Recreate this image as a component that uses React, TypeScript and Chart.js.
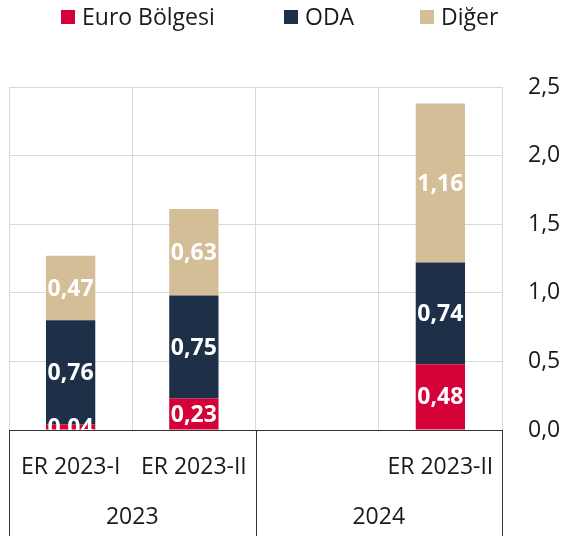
import React, { useEffect, useRef } from "react";
import { Chart, registerables } from "chart.js";

Chart.register(...registerables);

const categories = ["ER 2023-I", "ER 2023-II", "", "ER 2023-II"];
const groups = [
  { label: "2023", from: 0, to: 1 },
  { label: "2024", from: 2, to: 3 },
];
const euroBolgesi = [0.04, 0.23, null, 0.48];
const oda = [0.76, 0.75, null, 0.74];
const diger = [0.47, 0.63, null, 1.16];
const seriesNames = ["Euro Bölgesi", "ODA", "Diğer"];
const seriesColors = ["#D50037", "#1D3047", "#D4BE98"];
const yMin = 0;
const yMax = 2.5;
const yStep = 0.5;

const FONT = "'Open Sans', sans-serif";
const FS = 23;

const fmt = (v: number, d: number) => v.toFixed(d).replace(".", ",");

const legendPlugin = {
  id: "customLegend",
  afterDraw(chart: any) {
    const ctx = chart.ctx;
    ctx.save();
    ctx.font = `${FS}px ${FONT}`;
    ctx.textBaseline = "middle";
    ctx.textAlign = "left";
    const starts = [61, 284, 420];
    chart.data.datasets.forEach((ds: any, i: number) => {
      const x = starts[i];
      ctx.fillStyle = ds.backgroundColor;
      ctx.fillRect(x, 10, 14, 14);
      ctx.fillStyle = "#1a1a1a";
      ctx.fillText(ds.label, x + 21, 18);
    });
    ctx.restore();
  },
};

const dataLabelPlugin = {
  id: "segLabels",
  afterDatasetsDraw(chart: any) {
    const ctx = chart.ctx;
    const area = chart.chartArea;
    ctx.save();
    ctx.beginPath();
    ctx.rect(area.left, area.top, area.right - area.left, area.bottom - area.top);
    ctx.clip();
    ctx.font = `bold ${FS}px ${FONT}`;
    ctx.fillStyle = "#ffffff";
    ctx.textAlign = "center";
    ctx.textBaseline = "middle";
    chart.data.datasets.forEach((ds: any, di: number) => {
      const meta = chart.getDatasetMeta(di);
      meta.data.forEach((el: any, i: number) => {
        const v = ds.data[i];
        if (v === null || v === undefined) return;
        const p = el.getProps(["x", "y", "base"], true);
        ctx.fillText(fmt(v, 2), p.x, (p.y + p.base) / 2 + 1);
      });
    });
    ctx.restore();
  },
};

const axisBoxPlugin = {
  id: "axisBox",
  afterDraw(chart: any) {
    const ctx = chart.ctx;
    const x = chart.scales.x;
    const area = chart.chartArea;
    const bottom = chart.height;
    const cw = x.getPixelForValue(1) - x.getPixelForValue(0);
    ctx.save();
    ctx.strokeStyle = "#333333";
    ctx.lineWidth = 1;
    ctx.beginPath();
    ctx.moveTo(area.left, Math.round(area.bottom) + 0.5);
    ctx.lineTo(area.right, Math.round(area.bottom) + 0.5);
    const edges: number[] = [];
    groups.forEach((g) => {
      edges.push(x.getPixelForValue(g.from) - cw / 2);
    });
    edges.push(x.getPixelForValue(groups[groups.length - 1].to) + cw / 2);
    edges.forEach((e) => {
      const px = Math.round(e) + 0.5;
      ctx.moveTo(px, area.bottom);
      ctx.lineTo(px, bottom);
    });
    ctx.stroke();

    ctx.fillStyle = "#1a1a1a";
    ctx.font = `${FS}px ${FONT}`;
    ctx.textAlign = "center";
    ctx.textBaseline = "middle";
    categories.forEach((c, i) => {
      if (!c) return;
      ctx.fillText(c, x.getPixelForValue(i), 467);
    });
    groups.forEach((g) => {
      const cx = (x.getPixelForValue(g.from) + x.getPixelForValue(g.to)) / 2;
      ctx.fillText(g.label, cx, 517);
    });
    ctx.restore();
  },
};

export default function App() {
  const ref = useRef<HTMLCanvasElement | null>(null);
  useEffect(() => {
    if (!ref.current) return;
    const values = [euroBolgesi, oda, diger];
    const chart = new Chart(ref.current, {
      type: "bar",
      data: {
        labels: categories,
        datasets: values.map((d, i) => ({
          label: seriesNames[i],
          data: d as any,
          backgroundColor: seriesColors[i],
          borderWidth: 0,
          barPercentage: 0.4,
          categoryPercentage: 1.0,
        })),
      },
      options: {
        responsive: false,
        animation: false,
        layout: { padding: { top: 87, left: 9, right: 0, bottom: 0 } },
        plugins: {
          legend: { display: false },
          tooltip: { enabled: false },
        },
        scales: {
          x: {
            stacked: true,
            offset: true,
            grid: {
              display: true,
              offset: true,
              drawTicks: false,
              color: "#d9d9d9",
              lineWidth: 1,
            },
            border: { display: false },
            ticks: { display: false },
            afterFit: (s: any) => {
              s.height = 106;
            },
          },
          y: {
            stacked: true,
            position: "right",
            min: yMin,
            max: yMax,
            grid: { color: "#d9d9d9", lineWidth: 1, drawTicks: false },
            border: { display: false },
            ticks: {
              stepSize: yStep,
              padding: 26,
              color: "#1a1a1a",
              font: { family: FONT, size: FS },
              callback: (v: any) => fmt(Number(v), 1),
            },
            afterFit: (s: any) => {
              s.width = 59;
            },
          },
        },
      },
      plugins: [legendPlugin, dataLabelPlugin, axisBoxPlugin],
    });
    return () => chart.destroy();
  }, []);
  return (
    <div style={{ position: "absolute", left: 0, top: 0, width: 561, height: 536, background: "#fff" }}>
      <canvas ref={ref} width={561} height={536} style={{ width: 561, height: 536 }} />
    </div>
  );
}
